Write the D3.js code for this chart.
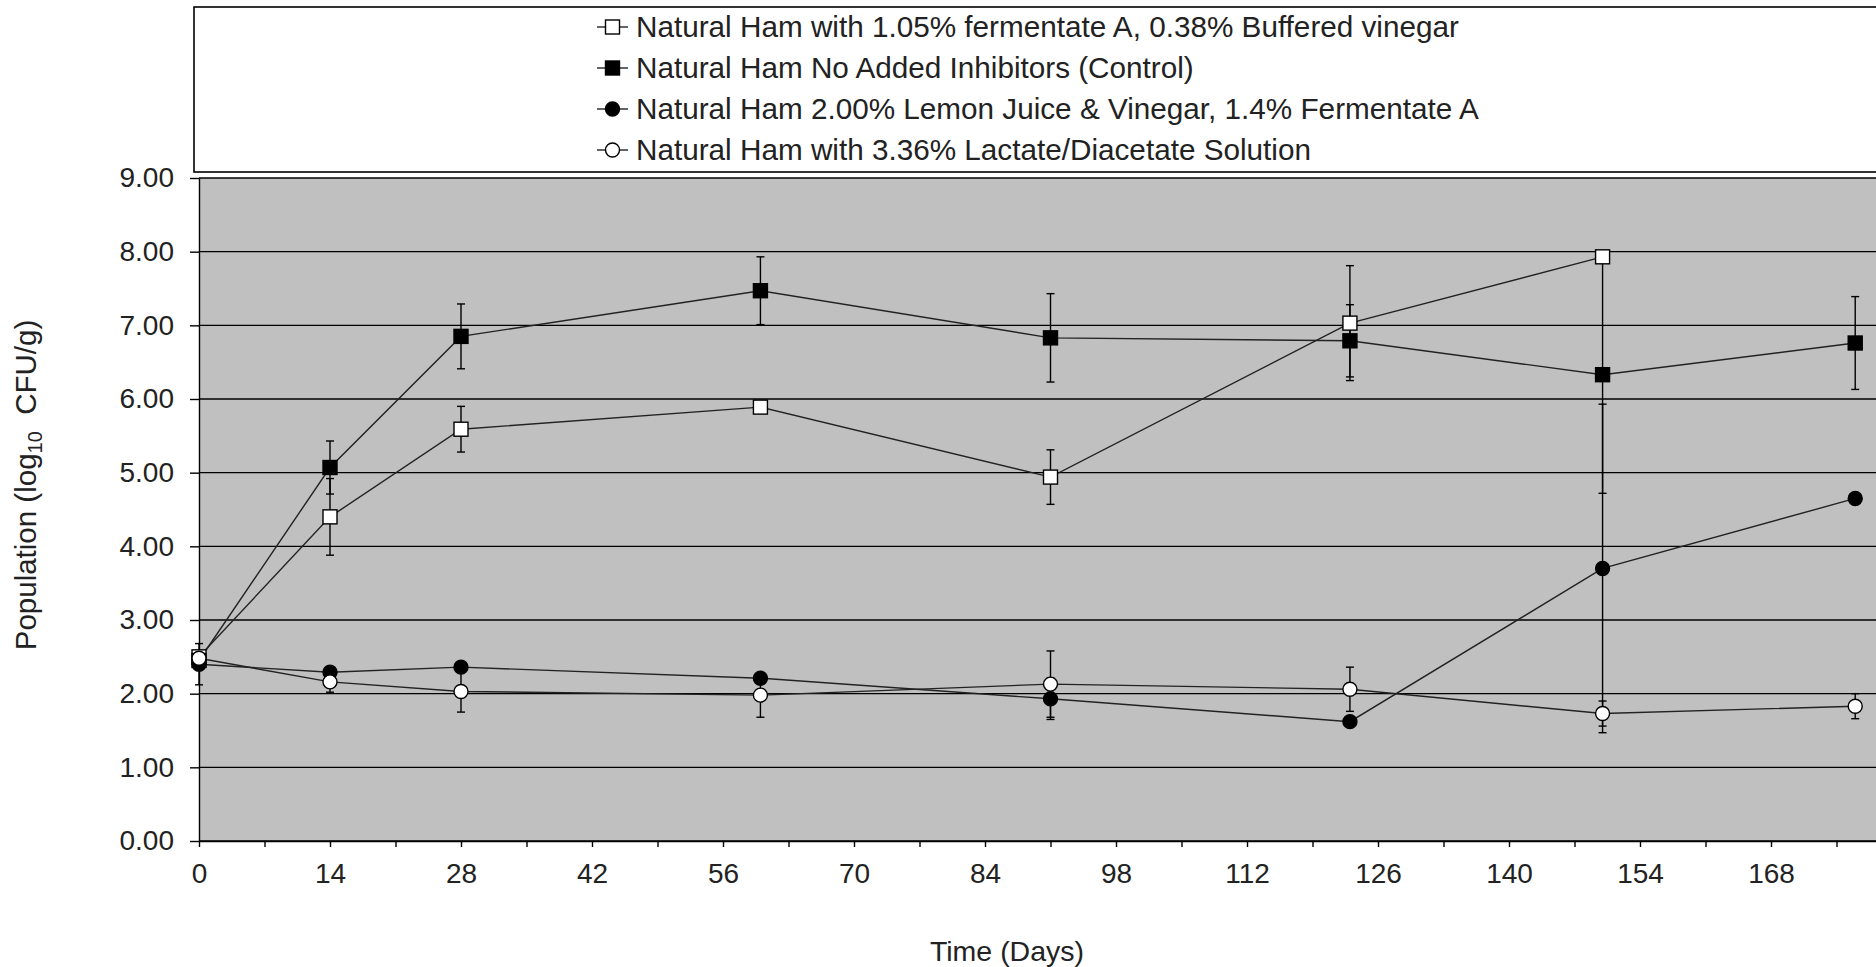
<!DOCTYPE html>
<html>
<head>
<meta charset="utf-8">
<script src="https://cdn.jsdelivr.net/npm/d3@7"></script>
<style>
  body { margin: 0; background: #fff; }
  svg { display: block; font-family: Arial, "Liberation Sans", sans-serif; }
</style>
</head>
<body>
<div id="vis"></div>
<script>
const WIDTH = 1876;
const HEIGHT = 967;
const MARGINS = {left: 199, top: 178, bottom: 126};

// sampling days
const days = [0, 14, 28, 60, 91, 123, 150, 177];

// series (legend order)
const seriesNames = [
  "Natural Ham with 1.05% fermentate A, 0.38% Buffered vinegar",
  "Natural Ham No Added Inhibitors (Control)",
  "Natural Ham 2.00% Lemon Juice & Vinegar, 1.4% Fermentate A",
  "Natural Ham with 3.36% Lactate/Diacetate Solution"
];

// log10 CFU/g means and error (sd)
const fermentateVals = [2.50, 4.40, 5.59, 5.89, 4.94, 7.03, 7.93];
const fermentateSd   = [0.05, 0.52, 0.31, 0.05, 0.37, 0.78, 0.05];

const controlVals = [2.45, 5.07, 6.85, 7.47, 6.83, 6.79, 6.33, 6.76];
const controlSd   = [0.05, 0.36, 0.44, 0.46, 0.60, 0.49, 1.61, 0.63];

const lemonVals = [2.40, 2.29, 2.36, 2.21, 1.93, 1.62, 3.70, 4.65];
const lemonSd   = [0.28, 0.05, 0.05, 0.05, 0.28, 0.05, 2.23, 0.05];

const lactateVals = [2.48, 2.16, 2.03, 1.98, 2.13, 2.06, 1.73, 1.83];
const lactateSd   = [0.05, 0.14, 0.28, 0.30, 0.45, 0.30, 0.17, 0.17];

const yTicks = [0, 1, 2, 3, 4, 5, 6, 7, 8, 9];
const xMinorTicks = d3.range(0, 182, 7);
const xLabelTicks = [0, 14, 28, 42, 56, 70, 84, 98, 112, 126, 140, 154, 168];

// marker style per series: [shape, fill]
const markers = [["square", "#fff"], ["square", "#000"], ["circle", "#000"], ["circle", "#fff"]];

const allVals = [fermentateVals, controlVals, lemonVals, lactateVals];
const allSd = [fermentateSd, controlSd, lemonSd, lactateSd];

const series = seriesNames.map((name, i) => ({
  name: name,
  shape: markers[i][0],
  fill: markers[i][1],
  points: allVals[i].map((v, j) => ({day: days[j], value: v, sd: allSd[i][j]}))
}));

const FRAME = d3.select("#vis")
  .append("svg")
    .attr("width", WIDTH)
    .attr("height", HEIGHT);

const X_SCALE = d3.scaleLinear()
  .domain([0, 182])
  .range([MARGINS.left, MARGINS.left + 13 * 131]);

const Y_SCALE = d3.scaleLinear()
  .domain([0, 9])
  .range([HEIGHT - MARGINS.bottom, MARGINS.top]);

// grey plot area
FRAME.append("rect")
  .attr("x", X_SCALE(0))
  .attr("y", Y_SCALE(9))
  .attr("width", X_SCALE(182) - X_SCALE(0))
  .attr("height", Y_SCALE(0) - Y_SCALE(9))
  .attr("fill", "#c0c0c0");

// horizontal gridlines
FRAME.selectAll(".grid")
  .data(yTicks)
  .enter()
  .append("line")
    .attr("x1", X_SCALE(0))
    .attr("x2", X_SCALE(182))
    .attr("y1", d => Y_SCALE(d))
    .attr("y2", d => Y_SCALE(d))
    .attr("stroke", "#000")
    .attr("stroke-width", 1.4);

// y axis
const yAxis = FRAME.append("g")
  .attr("transform", "translate(" + X_SCALE(0) + ",0)")
  .call(d3.axisLeft(Y_SCALE)
    .tickValues(yTicks)
    .tickFormat(d3.format(".2f"))
    .tickSize(9)
    .tickSizeOuter(0)
    .tickPadding(16));
yAxis.selectAll("text").attr("font-size", "28px").attr("fill", "#222").attr("font-family", null);
yAxis.selectAll("line, path").attr("stroke", "#000").attr("stroke-width", 1.4);

// x axis
const xAxis = FRAME.append("g")
  .attr("transform", "translate(0," + Y_SCALE(0) + ")")
  .call(d3.axisBottom(X_SCALE)
    .tickValues(xMinorTicks)
    .tickFormat(d => xLabelTicks.includes(d) ? d : "")
    .tickSize(6)
    .tickSizeOuter(0)
    .tickPadding(16));
xAxis.selectAll("text").attr("font-size", "28px").attr("fill", "#222").attr("font-family", null);
xAxis.selectAll("line, path").attr("stroke", "#000").attr("stroke-width", 1.4);

// axis titles
FRAME.append("text")
  .attr("x", 1007)
  .attr("y", 961)
  .attr("text-anchor", "middle")
  .attr("font-size", "28.5px")
  .attr("fill", "#222")
  .text("Time (Days)");

const yTitle = FRAME.append("text")
  .attr("transform", "translate(36,485) rotate(-90)")
  .attr("text-anchor", "middle")
  .attr("font-size", "29.5px")
  .attr("fill", "#222")
  .attr("xml:space", "preserve")
  .style("white-space", "pre");
yTitle.append("tspan").text("Population (log");
yTitle.append("tspan").attr("font-size", "20px").attr("dy", 6).text("10");
yTitle.append("tspan").attr("dy", -6).text("  CFU/g)");

// lines
const line = d3.line()
  .x(d => X_SCALE(d.day))
  .y(d => Y_SCALE(d.value));

FRAME.selectAll(".series-line")
  .data(series)
  .enter()
  .append("path")
    .attr("d", d => line(d.points))
    .attr("fill", "none")
    .attr("stroke", "#222")
    .attr("stroke-width", 1.4);

// error bars
const errData = series.flatMap(s => s.points);
const errG = FRAME.selectAll(".err")
  .data(errData)
  .enter()
  .append("g")
    .attr("stroke", "#000")
    .attr("stroke-width", 1.4);
errG.append("line")
  .attr("x1", d => X_SCALE(d.day))
  .attr("x2", d => X_SCALE(d.day))
  .attr("y1", d => Y_SCALE(Math.min(9, d.value + d.sd)))
  .attr("y2", d => Y_SCALE(d.value - d.sd));
errG.append("line")
  .attr("x1", d => X_SCALE(d.day) - 4)
  .attr("x2", d => X_SCALE(d.day) + 4)
  .attr("y1", d => Y_SCALE(d.value + d.sd))
  .attr("y2", d => Y_SCALE(d.value + d.sd));
errG.append("line")
  .attr("x1", d => X_SCALE(d.day) - 4)
  .attr("x2", d => X_SCALE(d.day) + 4)
  .attr("y1", d => Y_SCALE(d.value - d.sd))
  .attr("y2", d => Y_SCALE(d.value - d.sd));

// markers
function drawMarker(g, shape, fill, x, y) {
  if (shape === "square") {
    g.append("rect")
      .attr("x", x - 7).attr("y", y - 7)
      .attr("width", 14).attr("height", 14)
      .attr("fill", fill).attr("stroke", "#000").attr("stroke-width", 1.4);
  } else {
    g.append("circle")
      .attr("cx", x).attr("cy", y).attr("r", 7)
      .attr("fill", fill).attr("stroke", "#000").attr("stroke-width", 1.4);
  }
}

series.forEach(s => {
  const g = FRAME.append("g");
  s.points.forEach(p => drawMarker(g, s.shape, s.fill, X_SCALE(p.day), Y_SCALE(p.value)));
});

// legend
FRAME.append("rect")
  .attr("x", 194)
  .attr("y", 7)
  .attr("width", 1720)
  .attr("height", 165)
  .attr("fill", "#fff")
  .attr("stroke", "#000")
  .attr("stroke-width", 1.6);

const LEGEND_Y = d3.scalePoint()
  .domain(seriesNames)
  .range([27, 150]);

series.forEach(s => {
  const y = LEGEND_Y(s.name);
  const g = FRAME.append("g");
  g.append("line")
    .attr("x1", 597).attr("x2", 628)
    .attr("y1", y).attr("y2", y)
    .attr("stroke", "#222").attr("stroke-width", 1.4);
  drawMarker(g, s.shape, s.fill, 612.5, y);
  g.append("text")
    .attr("x", 636)
    .attr("y", y)
    .attr("dy", "0.35em")
    .attr("font-size", "29.7px")
    .attr("fill", "#222")
    .text(s.name);
});
</script>
</body>
</html>
